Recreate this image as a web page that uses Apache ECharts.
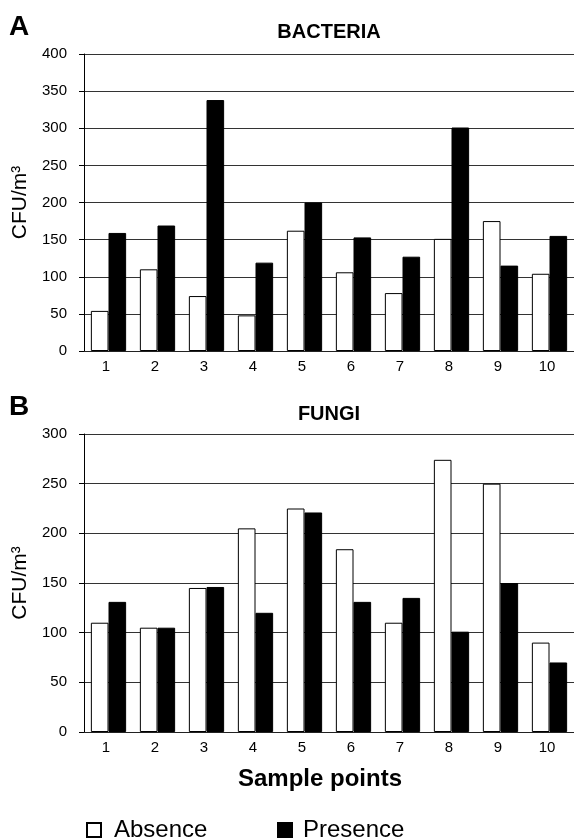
<!DOCTYPE html>
<html>
<head>
<meta charset="utf-8">
<script src="https://cdn.jsdelivr.net/npm/echarts@6/dist/echarts.min.js"></script>
<style>
html,body{margin:0;padding:0;background:#fff;}
#chart{width:574px;height:839px;}
</style>
</head>
<body>
<div id="chart"></div>
<script>
const categories = ['1','2','3','4','5','6','7','8','9','10'];
const bacteriaAbsence = [54,110,74,48,162,106,78,151,175,104];
const bacteriaPresence = [159,169,338,119,200,153,127,301,115,155];
const fungiAbsence = [110,105,145,205,225,184,110,274,250,90];
const fungiPresence = [131,105,146,120,221,131,135,101,150,70];
const bacteriaAxis = {max:400, interval:50};
const fungiAxis = {max:300, interval:50};
const seriesNames = ['Absence','Presence'];
const yName = 'CFU/m³';

const FONT = 'Liberation Sans, Arial, sans-serif';
const chart = echarts.init(document.getElementById('chart'), null, {renderer:'canvas'});

function xAx(gi, withName){
  const a = {
    type:'category', gridIndex:gi, data:categories,
    axisLine:{show:true, lineStyle:{color:'#222', width:1}},
    axisTick:{show:false},
    axisLabel:{fontSize:15, color:'#000', fontFamily:FONT, margin:8, padding:[0,5,0,0]}
  };
  if(withName){
    a.name = 'Sample points';
    a.nameLocation = 'middle';
    a.nameGap = 35;
    a.nameTextStyle = {fontSize:24, fontWeight:'bold', color:'#000', fontFamily:FONT, padding:[0,18,0,0]};
  }
  return a;
}
function yAx(gi, ax){
  return {
    type:'value', gridIndex:gi, min:0, max:ax.max, interval:ax.interval,
    name:yName, nameLocation:'middle', nameRotate:90, nameGap:47,
    nameTextStyle:{fontSize:21, color:'#000', fontFamily:FONT},
    axisLine:{show:true, lineStyle:{color:'#000', width:1}},
    axisTick:{show:true, inside:false, length:5, lineStyle:{color:'#000'}},
    axisLabel:{fontSize:15, color:'#000', fontFamily:FONT, margin:17},
    splitLine:{show:true, lineStyle:{color:'#333', width:1}}
  };
}
function bars(name, data, gi, absence){
  return {
    name:name, type:'bar', xAxisIndex:gi, yAxisIndex:gi, data:data,
    barGap:'0%', barCategoryGap:'28%',
    itemStyle: absence ? {color:'#fff', borderColor:'#000', borderWidth:1}
                       : {color:'#000', borderColor:'#000', borderWidth:1},
    emphasis:{disabled:true}, animation:false
  };
}

const option = {
  animation:false,
  backgroundColor:'#fff',
  title:[
    {text:'A', left:9, top:13, padding:0, textStyle:{fontSize:28, fontWeight:'bold', color:'#000', fontFamily:FONT}},
    {text:'BACTERIA', left:329, textAlign:'center', top:22, padding:0, textStyle:{fontSize:20, fontWeight:'bold', color:'#000', fontFamily:FONT}},
    {text:'B', left:9, top:393, padding:0, textStyle:{fontSize:28, fontWeight:'bold', color:'#000', fontFamily:FONT}},
    {text:'FUNGI', left:329, textAlign:'center', top:404, padding:0, textStyle:{fontSize:20, fontWeight:'bold', color:'#000', fontFamily:FONT}}
  ],
  legend:[
    {data:[seriesNames[0]], left:86, top:818, padding:0, itemWidth:14, itemHeight:14, icon:'rect',
     textStyle:{fontSize:24, color:'#000', fontFamily:FONT, padding:[0,0,0,8]}, selectedMode:false},
    {data:[seriesNames[1]], left:277, top:818, padding:0, itemWidth:14, itemHeight:14, icon:'rect',
     textStyle:{fontSize:24, color:'#000', fontFamily:FONT, padding:[0,0,0,6]}, selectedMode:false}
  ],
  grid:[
    {left:84, top:54, width:490, height:297},
    {left:84, top:434, width:490, height:298}
  ],
  xAxis:[xAx(0,false), xAx(1,true)],
  yAxis:[yAx(0,bacteriaAxis), yAx(1,fungiAxis)],
  series:[
    bars(seriesNames[0], bacteriaAbsence, 0, true),
    bars(seriesNames[1], bacteriaPresence, 0, false),
    bars(seriesNames[0], fungiAbsence, 1, true),
    bars(seriesNames[1], fungiPresence, 1, false)
  ]
};
chart.setOption(option);
</script>
</body>
</html>
